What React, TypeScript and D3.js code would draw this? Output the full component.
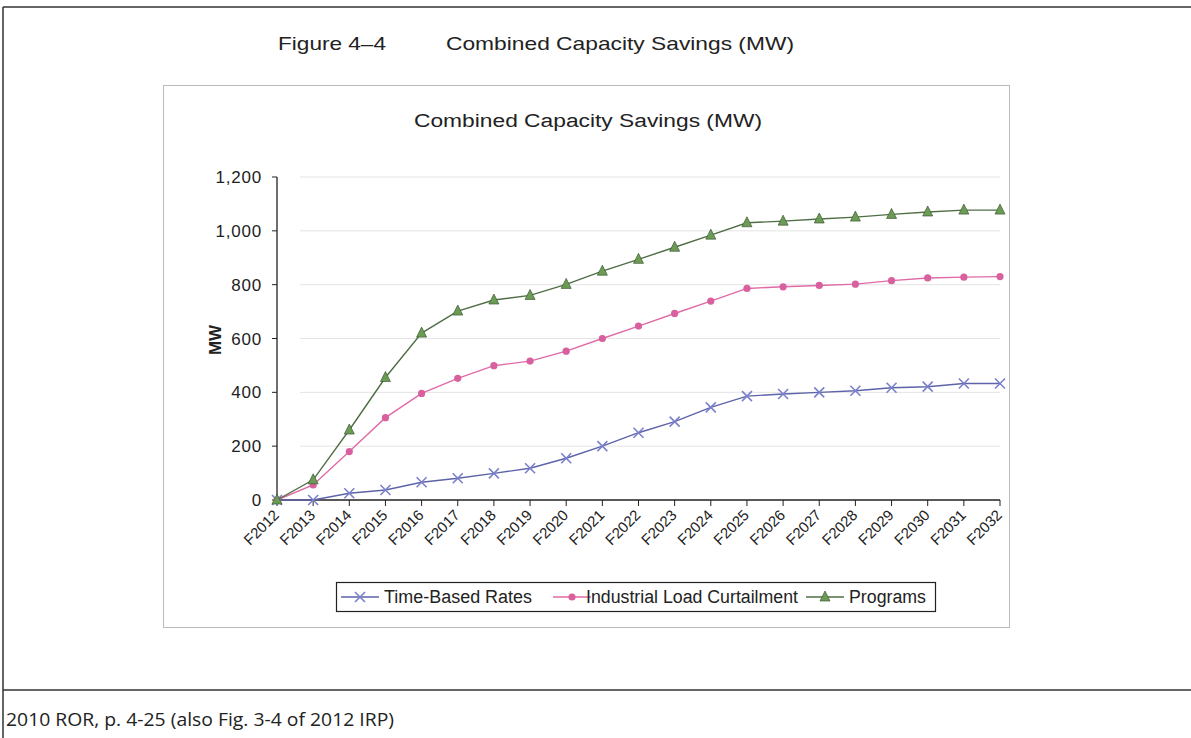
import React from "react";
import * as d3 from "d3";

const categories = ["F2012","F2013","F2014","F2015","F2016","F2017","F2018","F2019","F2020","F2021","F2022","F2023","F2024","F2025","F2026","F2027","F2028","F2029","F2030","F2031","F2032"];
const timeBasedRates = [0,0,25,37,66,81,99,118,155,200,250,291,344,386,394,400,406,417,421,433,433];
const industrialLoad = [0,56,180,306,396,452,499,516,553,600,646,693,739,786,792,797,802,815,825,828,830];
const programs = [0,75,260,455,620,702,743,760,801,850,894,939,984,1030,1036,1044,1051,1061,1070,1077,1077];
const yTicks = [0,200,400,600,800,1000,1200];
const seriesNames = ["Time-Based Rates","Industrial Load Curtailment","Programs"];

const W = 1191, H = 738;
const FONT = "'Liberation Sans', Arial, sans-serif";

export default function App() {
  const x = d3.scalePoint<string>().domain(categories).range([277, 1000]);
  const y = d3.scaleLinear().domain([0, 1200]).range([500, 177]);
  const line = d3.line<number>().x((_, i) => x(categories[i])!).y(d => y(d));

  const series = [
    { name: seriesNames[0], data: timeBasedRates, line: "#5d63a8", marker: "#7b80cc", kind: "x" },
    { name: seriesNames[1], data: industrialLoad, line: "#e06aa5", marker: "#d9609e", kind: "circle" },
    { name: seriesNames[2], data: programs, line: "#4f6e45", marker: "#6b9b55", kind: "tri" },
  ];

  const marker = (kind: string, cx: number, cy: number, color: string, key: any) => {
    if (kind === "x") {
      const s = 5;
      return (
        <path key={key} d={`M${cx - s},${cy - s}L${cx + s},${cy + s}M${cx - s},${cy + s}L${cx + s},${cy - s}`} stroke={color} strokeWidth={1.6} fill="none" />
      );
    }
    if (kind === "circle") {
      return <circle key={key} cx={cx} cy={cy} r={3.6} fill={color} />;
    }
    const s = 5;
    return (
      <path key={key} d={`M${cx},${cy - s - 1}L${cx + s},${cy + s - 1}L${cx - s},${cy + s - 1}Z`} fill={color} stroke="#3d5a33" strokeWidth={0.7} />
    );
  };

  const legendItems = [
    { x0: 341, tx: 384, w: 148 },
    { x0: 553, tx: 586, w: 212 },
    { x0: 806, tx: 849, w: 77 },
  ];

  return (
    <svg width={W} height={H} style={{ position: "absolute", left: 0, top: 0, background: "#fff" }} fontFamily={FONT}>
      {/* page borders */}
      <line x1={3} y1={7} x2={W} y2={7} stroke="#333" strokeWidth={1.5} />
      <line x1={3} y1={7} x2={3} y2={H} stroke="#333" strokeWidth={1.5} />
      <line x1={3} y1={690} x2={W} y2={690} stroke="#333" strokeWidth={1.5} />
      <text x={6} y={726} fontSize={19} fontFamily="'Open Sans', 'Noto Sans', sans-serif" fill="#222" textLength={388} lengthAdjust="spacingAndGlyphs">2010 ROR, p. 4-25 (also Fig. 3-4 of 2012 IRP)</text>

      {/* figure title */}
      <text x={278} y={50} fontSize={19} fill="#222" textLength={108} lengthAdjust="spacingAndGlyphs">Figure 4–4</text>
      <text x={446} y={50} fontSize={19} fill="#222" textLength={348} lengthAdjust="spacingAndGlyphs">Combined Capacity Savings (MW)</text>

      {/* chart box */}
      <rect x={163.5} y={85.5} width={846} height={542} fill="#fff" stroke="#bbb" strokeWidth={1} />
      <text x={414} y={127} fontSize={18} fill="#222" textLength={348} lengthAdjust="spacingAndGlyphs">Combined Capacity Savings (MW)</text>

      {/* gridlines */}
      {yTicks.filter(t => t > 0).map(t => (
        <line key={t} x1={300} x2={1000} y1={y(t)} y2={y(t)} stroke="#e4e4e4" strokeWidth={1} />
      ))}

      {/* y axis */}
      <line x1={277} x2={277} y1={177} y2={500} stroke="#222" strokeWidth={1.3} />
      {yTicks.map(t => (
        <g key={t}>
          <line x1={272} x2={277} y1={y(t)} y2={y(t)} stroke="#222" />
          <text x={262} y={y(t) + 6} fontSize={17} textAnchor="end" fill="#222" letterSpacing={0.8}>{d3.format(",")(t)}</text>
        </g>
      ))}
      <text transform={`translate(221,340) rotate(-90)`} fontSize={17} fontWeight="bold" textAnchor="middle" fill="#222">MW</text>

      {/* x axis */}
      <line x1={277} x2={1000} y1={500} y2={500} stroke="#222" strokeWidth={1.3} />
      {categories.map(c => (
        <g key={c}>
          <line x1={x(c)} x2={x(c)} y1={500} y2={506} stroke="#222" />
          <text transform={`translate(${x(c)! + 3},${516}) rotate(-45)`} fontSize={15} textAnchor="end" fill="#222">{c}</text>
        </g>
      ))}

      {/* series */}
      {series.map(s => (
        <g key={s.name}>
          <path d={line(s.data)!} fill="none" stroke={s.line} strokeWidth={1.4} />
          {s.data.map((v, i) => marker(s.kind, x(categories[i])!, y(v), s.marker, i))}
        </g>
      ))}

      {/* legend */}
      <rect x={336.5} y={582.5} width={599} height={29} fill="#fff" stroke="#222" strokeWidth={1.2} />
      {series.map((s, i) => (
        <g key={s.name}>
          <line x1={legendItems[i].x0} x2={legendItems[i].x0 + 38} y1={597} y2={597} stroke={s.line} strokeWidth={1.4} />
          {marker(s.kind, legendItems[i].x0 + 19, 597, s.marker, "m")}
          <text x={legendItems[i].tx} y={603} fontSize={18} fill="#222" textLength={legendItems[i].w} lengthAdjust="spacingAndGlyphs">{s.name}</text>
        </g>
      ))}
    </svg>
  );
}
